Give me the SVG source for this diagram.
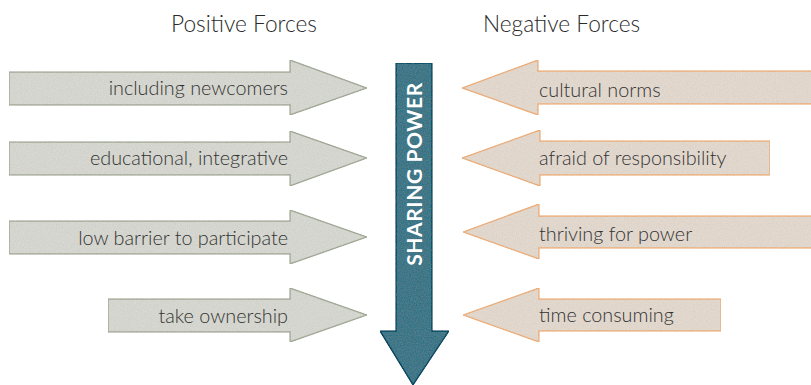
<svg xmlns="http://www.w3.org/2000/svg" width="811" height="385" viewBox="0 0 811 385">
<defs>
<filter id="grain" x="0" y="0" width="100%" height="100%">
<feTurbulence type="fractalNoise" baseFrequency="0.85" numOctaves="3" seed="4" result="noise"/>
<feColorMatrix in="noise" type="saturate" values="0" result="gray"/>
<feComposite in="gray" in2="SourceGraphic" operator="arithmetic" k1="0" k2="0.22" k3="0.95" k4="-0.1" result="mix"/>
<feComposite in="mix" in2="SourceAlpha" operator="in"/>
</filter>
<style>
.pos{fill:#dadbd4;stroke:#a9b09f;stroke-width:1.5;filter:url(#grain)}
.neg{fill:#e6dcd2;stroke:#f2b483;stroke-width:1.5;filter:url(#grain)}
.main{fill:#55808f;stroke:#2f5a6c;stroke-width:1.5;filter:url(#grain)}
.lbl{font-family:Lato,"Noto Sans",sans-serif;font-weight:300;font-size:19.8px;fill:#333333}
.title{font-family:Lato,"Noto Sans",sans-serif;font-weight:300;font-size:22.7px;fill:#2a2a2a}
.core{font-family:Lato,"Noto Sans",sans-serif;font-weight:700;font-size:21px;fill:#ffffff;letter-spacing:0.6px}
</style>
</defs>
<g id="titles">
<text class="title" x="171" y="32">Positive Forces</text>
<text class="title" x="483" y="32">Negative Forces</text>
</g>
<g id="connectors"></g>
<g id="sharing-power">
<polygon class="main" points="396,63 432,63 432,331 449,331 413,385 380,331 396,331"/>
<text class="core" transform="translate(422,174) rotate(-90)" text-anchor="middle">SHARING POWER</text>
</g>
<g id="pos-1">
<polygon class="pos" points="9,72 290,72 290,60 367,88 290,115 290,105 9,105"/>
<text class="lbl" x="288" y="95" text-anchor="end">including newcomers</text>
</g>
<g id="pos-2">
<polygon class="pos" points="9,142 290,142 290,131 367,158 290,186 290,175 9,175"/>
<text class="lbl" x="288" y="165" text-anchor="end">educational, integrative</text>
</g>
<g id="pos-3">
<polygon class="pos" points="9,221 290,221 290,210 367,237 290,264 290,254 9,254"/>
<text class="lbl" x="288" y="245" text-anchor="end">low barrier to participate</text>
</g>
<g id="pos-4">
<polygon class="pos" points="108,299 290,299 290,288 367,315 290,342 290,332 108,332"/>
<text class="lbl" x="288" y="323" text-anchor="end">take ownership</text>
</g>
<g id="neg-1">
<polygon class="neg" points="814,71 538,71 538,60 462,88 538,115 538,104 814,104"/>
<text class="lbl" x="539" y="97">cultural norms</text>
</g>
<g id="neg-2">
<polygon class="neg" points="770,141 540,141 540,130 462,158 540,186 540,175 770,175"/>
<text class="lbl" x="539" y="165">afraid of responsibility</text>
</g>
<g id="neg-3">
<polygon class="neg" points="814,216 539,216 539,204 463,232 539,259 539,248 814,248"/>
<text class="lbl" x="539" y="241">thriving for power</text>
</g>
<g id="neg-4">
<polygon class="neg" points="721,299 539,299 539,288 463,315 539,342 539,331 721,331"/>
<text class="lbl" x="539" y="322">time consuming</text>
</g>
</svg>
